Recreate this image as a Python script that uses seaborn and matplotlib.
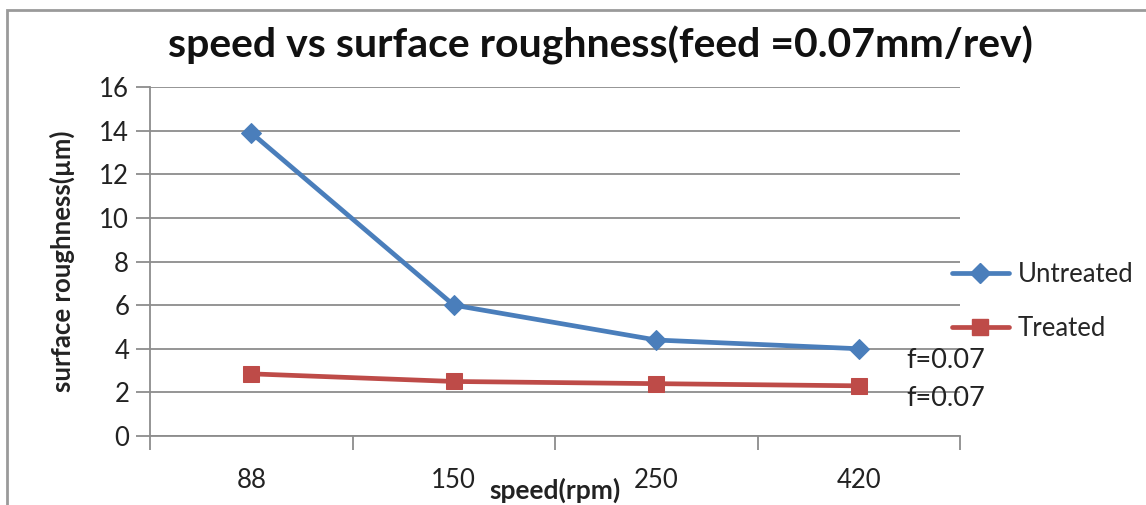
import matplotlib
matplotlib.use("Agg")
import matplotlib.pyplot as plt
import seaborn as sns
import pandas as pd
from matplotlib.patches import Rectangle
from matplotlib.lines import Line2D

speeds = ["88", "150", "250", "420"]
untreated = [13.9, 6.0, 4.4, 4.0]
treated = [2.85, 2.5, 2.4, 2.3]
series_names = ["Untreated", "Treated"]
y_ticks = [0, 2, 4, 6, 8, 10, 12, 14, 16]
point_labels = ["f=0.07", "f=0.07"]

sns.set_theme(style="white")
plt.rcParams["font.family"] = ["Lato", "DejaVu Sans"]

BLUE = "#4A7EBB"
RED = "#BE4B48"
GRID = "#8C8C8C"

df = pd.DataFrame({
    "pos": list(range(len(speeds))) * 2,
    "value": untreated + treated,
    "series": [series_names[0]] * len(speeds) + [series_names[1]] * len(speeds),
})

fig = plt.figure(figsize=(11.46, 5.05), dpi=100)
ax = fig.add_axes([150 / 1146, 69 / 505, 810 / 1146, 349 / 505])

sns.lineplot(data=df[df.series == "Untreated"], x="pos", y="value", ax=ax,
             color=BLUE, lw=3.4, marker="D", markersize=10, markeredgecolor=BLUE,
             legend=False, zorder=4)
sns.lineplot(data=df[df.series == "Treated"], x="pos", y="value", ax=ax,
             color=RED, lw=3.4, marker="s", markersize=11, markeredgecolor=RED,
             legend=False, zorder=4)

ax.set_xlim(-0.5, len(speeds) - 0.5)
ax.set_ylim(0, 16)
ax.set_yticks(y_ticks)
ax.set_yticklabels([str(t) for t in y_ticks], fontsize=18.5, color="#222222")
ax.yaxis.grid(True, color=GRID, lw=1.3)
ax.set_axisbelow(True)

ax.set_xticks([i - 0.5 for i in range(len(speeds) + 1)])
ax.set_xticklabels([])
ax.set_xticks(range(len(speeds)), minor=True)
ax.set_xticklabels(speeds, minor=True, fontsize=18.5, color="#222222")
ax.tick_params(axis="x", which="minor", length=0, pad=23)
ax.tick_params(axis="x", which="major", length=10, width=1.3, color=GRID, direction="out", bottom=True)
ax.tick_params(axis="y", length=10, width=1.3, color=GRID, direction="out", left=True, pad=5)

for s in ["top", "right"]:
    ax.spines[s].set_visible(False)
for s in ["left", "bottom"]:
    ax.spines[s].set_color(GRID)
    ax.spines[s].set_linewidth(1.3)

ax.set_xlabel("")
ax.set_ylabel("")

# data labels at last points
ax.text(len(speeds) - 1 + 0.235, untreated[-1] - 0.55, point_labels[0], fontsize=19.5, color="#222222", va="center", ha="left", clip_on=False)
ax.text(len(speeds) - 1 + 0.235, treated[-1] - 0.6, point_labels[1], fontsize=19.5, color="#222222", va="center", ha="left", clip_on=False)

fig.text(600 / 1146, 1 - 45 / 505, "speed vs surface roughness(feed =0.07mm/rev)",
         fontsize=29.5, fontweight="bold", ha="center", va="center", color="#111111")
fig.text(555 / 1146, 1 - 490 / 505, "speed(rpm)", fontsize=19, fontweight="bold",
         ha="center", va="center", color="#222222")
fig.text(62 / 1146, 1 - 261 / 505, "surface roughness(µm)", fontsize=18.5, fontweight="bold",
         ha="center", va="center", rotation=90, color="#222222")

handles = [
    Line2D([], [], color=BLUE, lw=3.4, marker="D", markersize=10),
    Line2D([], [], color=RED, lw=3.4, marker="s", markersize=11),
]
fig.legend(handles, series_names, loc="center left",
           bbox_to_anchor=(929 / 1146, 1 - 301.5 / 505), frameon=False,
           fontsize=18.5, handlelength=2.2, handletextpad=0.35, labelspacing=1.1)

fig.patches.append(Rectangle((7 / 1146, -0.05), 1.2, 1 - 10 / 505 + 0.05,
                             transform=fig.transFigure, fill=False,
                             edgecolor="#9A9A9A", lw=2))

fig.savefig("out.png", dpi=100)
